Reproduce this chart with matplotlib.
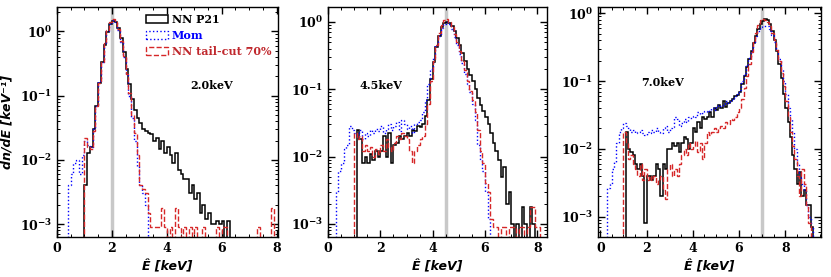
import numpy as np
import matplotlib
matplotlib.use("Agg")
import matplotlib.pyplot as plt
from matplotlib.ticker import MultipleLocator, LogLocator, NullFormatter

plt.rcParams['font.family'] = ['DejaVu Serif']
plt.rcParams['font.weight'] = 'bold'
plt.rcParams['mathtext.fontset'] = 'dejavuserif'
plt.rcParams['mathtext.default'] = 'bf'

BIN = 0.1  # keV
energies = [2.0, 4.5, 7.0]
labels = ['NN P21', 'Mom', 'NN tail-cut 70%']

# ---- 2.0 keV ----
p21_2_start = 1.0
p21_2 = [0.004, 0.013, 0.016, 0.03, 0.07, 0.16, 0.33, 0.62, 0.98, 1.3,
         1.47, 1.42, 1.15, 0.8, 0.48, 0.26, 0.15, 0.09, 0.06, 0.045,
         0.038, 0.03, 0.028, 0.026, 0.025, 0.02, 0.022, 0.015, 0.02, 0.013,
         0.016, 0.012, 0.009, 0.013, 0.007, 0.006, 0.005, 0.005, 0.003, 0.004,
         0.0025, 0.003, 0.0015, 0.002, 0.0012, 0.0015, 0.001, 0.001, 0.0011, 0.001,
         0.0011, 0, 0.0011, 0]
mom_2_start = 0.4
mom_2 = [0.004, 0.006, 0.009, 0.01, 0.006, 0.012, 0.02, 0.017, 0.016, 0.03,
         0.07, 0.17, 0.34, 0.64, 1.0, 1.32, 1.48, 1.38, 1.05, 0.68,
         0.4, 0.21, 0.1, 0.045, 0.02, 0.008, 0.004, 0.003, 0.002, 0]
cut_2_start = 1.0
cut_2 = [0.022, 0.016, 0.015, 0.028, 0.068, 0.16, 0.34, 0.66, 1.05, 1.4,
         1.55, 1.42, 1.08, 0.7, 0.41, 0.22, 0.11, 0.05, 0.026, 0.012,
         0.004, 0.0035, 0.003, 0.0015, 0.0009, 0.0009, 0.0009, 0.0009, 0.0018, 0.0009,
         0, 0.0009, 0, 0.0018, 0.0009, 0, 0.0009, 0, 0.0009, 0,
         0.0009, 0, 0, 0.0009, 0, 0, 0, 0, 0.0009, 0,
         0.0009, 0.0009, 0, 0, 0, 0, 0, 0, 0, 0,
         0, 0, 0, 0.0009, 0, 0, 0, 0, 0.0018, 0]

# ---- 4.5 keV ----
p21_45_start = 1.1
p21_45 = [0.025, 0.018, 0.008, 0.01, 0.008, 0.011, 0.009, 0.012, 0.01, 0.012,
          0.02, 0.01, 0.022, 0.008, 0.015, 0.016, 0.02, 0.018, 0.02, 0.022,
          0.02, 0.025, 0.024, 0.028, 0.027, 0.03, 0.04, 0.07, 0.14, 0.25,
          0.42, 0.62, 0.82, 0.95, 1.0, 0.95, 0.85, 0.72, 0.58, 0.45,
          0.34, 0.26, 0.2, 0.16, 0.13, 0.1, 0.075, 0.058, 0.048, 0.038,
          0.03, 0.022, 0.016, 0.012, 0.009, 0.005, 0.007, 0.002, 0.003, 0.001,
          0, 0.001, 0, 0.0018, 0.001, 0, 0.0018, 0.001, 0]
mom_45_start = 0.3
mom_45 = [0.003, 0.006, 0.008, 0.013, 0.015, 0.028, 0.025, 0.022, 0.02, 0.025,
          0.018, 0.022, 0.02, 0.025, 0.022, 0.026, 0.024, 0.028, 0.022, 0.026,
          0.03, 0.025, 0.028, 0.032, 0.024, 0.035, 0.03, 0.026, 0.028, 0.022,
          0.03, 0.032, 0.035, 0.045, 0.07, 0.12, 0.2, 0.3, 0.45, 0.62,
          0.8, 0.92, 0.98, 0.92, 0.78, 0.6, 0.45, 0.33, 0.24, 0.17,
          0.12, 0.09, 0.06, 0.035, 0.015, 0.009, 0.006, 0.003, 0.0012, 0]
cut_45_start = 1.0
cut_45 = [0.022, 0.018, 0.02, 0.012, 0.015, 0.012, 0.014, 0.01, 0.013, 0.011,
          0.015, 0.012, 0.018, 0.014, 0.012, 0.016, 0.02, 0.018, 0.022, 0.02,
          0.018, 0.012, 0.008, 0.012, 0.015, 0.018, 0.02, 0.03, 0.06, 0.13,
          0.26, 0.45, 0.68, 0.9, 1.05, 1.08, 1.0, 0.84, 0.66, 0.5,
          0.37, 0.27, 0.19, 0.13, 0.095, 0.07, 0.045, 0.025, 0.012, 0.008,
          0.004, 0.003, 0.0012, 0.0009, 0.0009, 0, 0.0009, 0.0009, 0, 0.0009,
          0.0009, 0.0009, 0, 0.0009, 0.0009, 0, 0.0009, 0.0018, 0.0018, 0.0009,
          0.0009, 0]

# ---- 7.0 keV ----
p21_7_start = 1.1
p21_7 = [0.018, 0.01, 0.009, 0.008, 0.006, 0.005, 0.006, 0.004, 0.0008, 0.004,
         0.004, 0.0035, 0.004, 0.006, 0.005, 0.002, 0.006, 0.005, 0.01, 0.01,
         0.012, 0.011, 0.012, 0.009, 0.012, 0.015, 0.014, 0.01, 0.012, 0.02,
         0.018, 0.025, 0.02, 0.03, 0.028, 0.03, 0.035, 0.03, 0.04, 0.038,
         0.045, 0.04, 0.05, 0.042, 0.048, 0.05, 0.055, 0.06, 0.062, 0.07,
         0.09, 0.12, 0.16, 0.21, 0.28, 0.36, 0.46, 0.58, 0.7, 0.78,
         0.82, 0.8, 0.7, 0.55, 0.4, 0.28, 0.18, 0.11, 0.065, 0.04,
         0.025, 0.015, 0.008, 0.005, 0.003, 0.0045, 0.002, 0.0025, 0.0015, 0.0015,
         0.0007, 0]
mom_7_start = 0.3
mom_7 = [0.0026, 0.003, 0.005, 0.0065, 0.012, 0.018, 0.02, 0.024, 0.022, 0.02,
         0.018, 0.019, 0.017, 0.018, 0.019, 0.017, 0.016, 0.018, 0.017, 0.019,
         0.018, 0.02, 0.018, 0.017, 0.02, 0.022, 0.018, 0.02, 0.021, 0.03,
         0.028, 0.022, 0.024, 0.028, 0.025, 0.03, 0.029, 0.031, 0.03, 0.035,
         0.033, 0.034, 0.036, 0.035, 0.038, 0.04, 0.038, 0.042, 0.045, 0.043,
         0.045, 0.05, 0.048, 0.052, 0.055, 0.06, 0.065, 0.075, 0.1, 0.13,
         0.17, 0.22, 0.29, 0.37, 0.46, 0.55, 0.62, 0.65, 0.66, 0.64,
         0.58, 0.48, 0.38, 0.29, 0.21, 0.15, 0.1, 0.065, 0.04, 0.028,
         0.018, 0.01, 0.006, 0.004, 0.003, 0.0025, 0.0015, 0.001, 0.0007, 0]
cut_7_start = 1.0
cut_7 = [0.018, 0.012, 0.007, 0.008, 0.006, 0.005, 0.004, 0.006, 0.0035, 0.005,
         0.0035, 0.004, 0.0035, 0.004, 0.003, 0.0035, 0.004, 0.0025, 0.0018, 0.005,
         0.006, 0.004, 0.005, 0.004, 0.006, 0.008, 0.01, 0.008, 0.012, 0.01,
         0.011, 0.013, 0.009, 0.012, 0.007, 0.012, 0.018, 0.016, 0.018, 0.02,
         0.018, 0.02, 0.022, 0.02, 0.025, 0.023, 0.028, 0.027, 0.03, 0.035,
         0.04, 0.055, 0.08, 0.12, 0.18, 0.27, 0.38, 0.52, 0.68, 0.8,
         0.82, 0.8, 0.74, 0.64, 0.52, 0.4, 0.29, 0.2, 0.13, 0.085,
         0.05, 0.03, 0.018, 0.011, 0.007, 0.004, 0.002, 0.005, 0.003, 0.0015,
         0.0008, 0]

panels = [
    [(p21_2_start, p21_2), (mom_2_start, mom_2), (cut_2_start, cut_2)],
    [(p21_45_start, p21_45), (mom_45_start, mom_45), (cut_45_start, cut_45)],
    [(p21_7_start, p21_7), (mom_7_start, mom_7), (cut_7_start, cut_7)],
]

styles = [dict(color='black', ls='-', lw=1.1),
          dict(color='blue', ls=':', lw=1.0),
          dict(color='#d62728', ls='--', lw=1.0)]
text_colors = ['black', 'blue', '#c0282d']

rects = [[0.0686, 0.1444, 0.2659, 0.8303],
         [0.3947, 0.1444, 0.2639, 0.8303],
         [0.7196, 0.1444, 0.2684, 0.8303]]
xlims = [(0, 8.05), (0, 8.38), (-0.1, 9.55)]
ylims = [(6.3e-4, 2.4), (6.4e-4, 1.65), (5e-4, 1.24)]
text_pos = [(0.70, 0.66), (0.24, 0.66), (0.29, 0.67)]


def draw_hist(ax, start, values, **kw):
    edges = start + BIN * np.arange(len(values) + 1)
    centres = edges[:-1] + BIN / 2
    return ax.hist(centres, bins=edges, weights=values, histtype='step', log=True, **kw)


fig = plt.figure(figsize=(8.31, 2.77), dpi=100)
for i, rect in enumerate(rects):
    ax = fig.add_axes(rect)
    ax.axvline(energies[i], color='#c8c8c8', lw=2.5, zorder=0)
    for (start, vals), st, lab in zip(panels[i], styles, labels):
        draw_hist(ax, start, vals, label=lab, **st)
    ax.set_yscale('log')
    ax.set_xlim(*xlims[i])
    ax.set_ylim(*ylims[i])
    ax.xaxis.set_major_locator(MultipleLocator(2))
    ax.xaxis.set_minor_locator(MultipleLocator(0.5))
    ax.yaxis.set_major_locator(LogLocator(base=10, numticks=10))
    ax.yaxis.set_minor_locator(LogLocator(base=10, subs=np.arange(2, 10), numticks=10))
    ax.yaxis.set_minor_formatter(NullFormatter())
    ax.tick_params(which='both', direction='in', top=True, right=True, labelsize=9)
    ax.tick_params(which='major', length=5, width=1)
    ax.tick_params(which='minor', length=2.5, width=0.7)
    for sp in ax.spines.values():
        sp.set_linewidth(1.0)
    ax.text(text_pos[i][0], text_pos[i][1], f'{energies[i]:.1f}keV', transform=ax.transAxes,
            ha='center', va='center', fontsize=8, fontweight='bold')
    ax.set_xlabel('Ê [keV]', family='DejaVu Sans', style='italic', fontweight='bold', fontsize=9)
    if i == 0:
        ax.set_ylabel('dn/dÊ [keV⁻¹]', family='DejaVu Sans', style='italic', fontweight='bold',
                      fontsize=9)
        leg = ax.legend(loc='upper right', frameon=False, fontsize=8, handlelength=2.0,
                        handletextpad=0.3, borderaxespad=0.2, labelspacing=0.45)
        for t, c in zip(leg.get_texts(), text_colors):
            t.set_color(c)

fig.savefig('out.png', dpi=100)
